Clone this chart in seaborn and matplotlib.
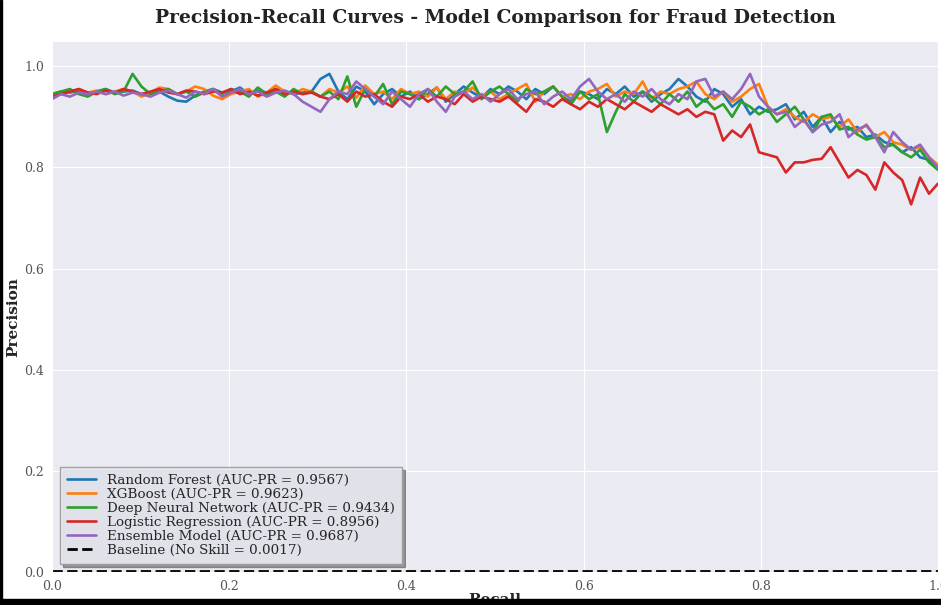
import numpy as np
import pandas as pd
import matplotlib
matplotlib.use("Agg")
import matplotlib.pyplot as plt
from matplotlib.patches import Rectangle
import seaborn as sns

# Precision at 100 evenly spaced recall levels for each model
recall = np.linspace(0.0, 1.0, 100)

random_forest = [
    0.945, 0.950, 0.948, 0.952, 0.945, 0.950, 0.955, 0.948, 0.950, 0.952,
    0.945, 0.948, 0.950, 0.940, 0.932, 0.930, 0.942, 0.950, 0.955, 0.948,
    0.950, 0.958, 0.945, 0.952, 0.948, 0.955, 0.950, 0.945, 0.948, 0.950,
    0.975, 0.985, 0.950, 0.935, 0.960, 0.950, 0.925, 0.945, 0.955, 0.940,
    0.950, 0.935, 0.945, 0.958, 0.930, 0.945, 0.960, 0.948, 0.938, 0.955,
    0.945, 0.960, 0.950, 0.935, 0.955, 0.945, 0.960, 0.940, 0.930, 0.950,
    0.945, 0.935, 0.955, 0.945, 0.960, 0.940, 0.950, 0.930, 0.945, 0.955,
    0.975, 0.960, 0.940, 0.930, 0.955, 0.945, 0.920, 0.935, 0.905, 0.920,
    0.910, 0.915, 0.925, 0.895, 0.910, 0.880, 0.900, 0.870, 0.890, 0.875,
    0.880, 0.860, 0.865, 0.850, 0.845, 0.830, 0.840, 0.820, 0.815, 0.800,
]

xgboost = [
    0.940, 0.945, 0.950, 0.955, 0.948, 0.952, 0.945, 0.950, 0.955, 0.950,
    0.940, 0.948, 0.958, 0.955, 0.945, 0.950, 0.960, 0.955, 0.942, 0.935,
    0.945, 0.950, 0.955, 0.940, 0.948, 0.962, 0.950, 0.945, 0.955, 0.950,
    0.940, 0.955, 0.948, 0.960, 0.938, 0.962, 0.945, 0.950, 0.935, 0.955,
    0.945, 0.950, 0.940, 0.958, 0.935, 0.950, 0.945, 0.958, 0.940, 0.950,
    0.935, 0.945, 0.955, 0.965, 0.930, 0.950, 0.960, 0.940, 0.945, 0.935,
    0.950, 0.955, 0.965, 0.940, 0.950, 0.945, 0.970, 0.935, 0.950, 0.945,
    0.955, 0.960, 0.970, 0.945, 0.935, 0.950, 0.930, 0.940, 0.955, 0.965,
    0.920, 0.905, 0.915, 0.900, 0.890, 0.905, 0.895, 0.900, 0.880, 0.895,
    0.870, 0.885, 0.860, 0.870, 0.850, 0.845, 0.835, 0.840, 0.820, 0.805,
]

deep_nn = [
    0.945, 0.950, 0.955, 0.945, 0.940, 0.950, 0.955, 0.945, 0.950, 0.985,
    0.960, 0.945, 0.950, 0.955, 0.945, 0.950, 0.940, 0.948, 0.955, 0.945,
    0.955, 0.950, 0.940, 0.958, 0.945, 0.950, 0.940, 0.955, 0.945, 0.950,
    0.940, 0.950, 0.935, 0.980, 0.920, 0.955, 0.940, 0.965, 0.925, 0.950,
    0.945, 0.935, 0.955, 0.940, 0.960, 0.945, 0.950, 0.970, 0.935, 0.950,
    0.960, 0.945, 0.930, 0.955, 0.945, 0.950, 0.960, 0.940, 0.925, 0.950,
    0.935, 0.945, 0.870, 0.910, 0.945, 0.930, 0.950, 0.940, 0.925, 0.945,
    0.930, 0.950, 0.920, 0.935, 0.915, 0.925, 0.900, 0.930, 0.920, 0.905,
    0.915, 0.890, 0.905, 0.920, 0.895, 0.870, 0.900, 0.905, 0.875, 0.880,
    0.865, 0.855, 0.860, 0.840, 0.845, 0.830, 0.820, 0.835, 0.810, 0.795,
]

logistic = [
    0.940, 0.945, 0.950, 0.955, 0.948, 0.945, 0.952, 0.948, 0.955, 0.950,
    0.945, 0.950, 0.955, 0.948, 0.945, 0.952, 0.950, 0.945, 0.950, 0.948,
    0.955, 0.945, 0.950, 0.942, 0.948, 0.955, 0.945, 0.950, 0.945, 0.948,
    0.940, 0.935, 0.945, 0.930, 0.950, 0.940, 0.945, 0.930, 0.920, 0.940,
    0.935, 0.945, 0.930, 0.940, 0.935, 0.925, 0.945, 0.930, 0.940, 0.935,
    0.930, 0.940, 0.925, 0.910, 0.935, 0.930, 0.920, 0.935, 0.925, 0.915,
    0.930, 0.920, 0.935, 0.925, 0.915, 0.930, 0.920, 0.910, 0.925, 0.915,
    0.905, 0.915, 0.900, 0.910, 0.905, 0.853, 0.873, 0.860, 0.885, 0.830,
    0.825, 0.820, 0.790, 0.810, 0.810, 0.815, 0.817, 0.840, 0.810, 0.780,
    0.795, 0.785, 0.756, 0.810, 0.790, 0.775, 0.727, 0.780, 0.748, 0.768,
]

ensemble = [
    0.935, 0.945, 0.940, 0.948, 0.945, 0.950, 0.945, 0.950, 0.942, 0.948,
    0.945, 0.940, 0.948, 0.952, 0.945, 0.938, 0.950, 0.945, 0.955, 0.940,
    0.948, 0.955, 0.945, 0.950, 0.940, 0.948, 0.952, 0.945, 0.930, 0.920,
    0.910, 0.935, 0.950, 0.945, 0.970, 0.955, 0.940, 0.925, 0.950, 0.935,
    0.920, 0.945, 0.955, 0.930, 0.910, 0.940, 0.950, 0.935, 0.945, 0.930,
    0.945, 0.955, 0.935, 0.945, 0.950, 0.925, 0.940, 0.950, 0.935, 0.960,
    0.975, 0.950, 0.935, 0.945, 0.930, 0.950, 0.940, 0.955, 0.935, 0.925,
    0.945, 0.935, 0.970, 0.975, 0.940, 0.950, 0.935, 0.955, 0.985, 0.940,
    0.920, 0.905, 0.910, 0.880, 0.895, 0.870, 0.885, 0.890, 0.905, 0.860,
    0.875, 0.883, 0.860, 0.830, 0.870, 0.850, 0.835, 0.845, 0.820, 0.800,
]

model_names = ["Random Forest", "XGBoost", "Deep Neural Network",
               "Logistic Regression", "Ensemble Model"]
auc_pr = [0.9567, 0.9623, 0.9434, 0.8956, 0.9687]
baseline_rate = 0.0017

curves = [random_forest, xgboost, deep_nn, logistic, ensemble]
colors = ["#1f77b4", "#ff7f0e", "#2ca02c", "#d62728", "#9467bd"]

sns.set_style("darkgrid")
plt.rcParams["font.family"] = ["DejaVu Serif"]

fig = plt.figure(figsize=(9.41, 6.05), dpi=100)
ax = fig.add_axes([52 / 941, 33 / 605, 886 / 941, 531 / 605])

for name, auc, prec, color in zip(model_names, auc_pr, curves, colors):
    df = pd.DataFrame({"Recall": recall, "Precision": prec})
    sns.lineplot(data=df, x="Recall", y="Precision", ax=ax, color=color,
                 linewidth=1.9, label=f"{name} (AUC-PR = {auc:.4f})")

base_df = pd.DataFrame({"Recall": [0.0, 1.0],
                        "Precision": [baseline_rate, baseline_rate]})
sns.lineplot(data=base_df, x="Recall", y="Precision", ax=ax, color="black",
             linestyle="--", linewidth=2,
             label=f"Baseline (No Skill = {baseline_rate:.4f})")

ax.set_xlim(0.0, 1.0)
ax.set_ylim(0.0, 1.05)
ax.set_xticks([0.0, 0.2, 0.4, 0.6, 0.8, 1.0])
ax.set_xticklabels(["0.0", "0.2", "0.4", "0.6", "0.8", "1.0"])
ax.tick_params(labelsize=9, colors="#555555", pad=2)
ax.set_xlabel("Recall", fontsize=11, fontweight="bold", labelpad=0)
ax.set_ylabel("Precision", fontsize=11, fontweight="bold")
ax.yaxis.set_label_coords(-0.036, 0.48)
ax.set_title("Precision-Recall Curves - Model Comparison for Fraud Detection",
             fontsize=13.5, fontweight="bold", pad=13, color="#222222")

leg = ax.legend(loc="lower left", fontsize=9.7, frameon=True, shadow=True,
                fancybox=False, framealpha=0.9, borderpad=0.5,
                handlelength=2.2, labelspacing=0.08, borderaxespad=0.6)
leg.get_frame().set_edgecolor("#999999")

# dark frame along the left and bottom edges of the image
fig.patches.append(Rectangle((0, 0), 2 / 941, 1, transform=fig.transFigure,
                             color="black", zorder=10))
fig.patches.append(Rectangle((0, 0), 1, 6 / 605, transform=fig.transFigure,
                             color="black", zorder=10))

fig.savefig("out.png", dpi=100)
